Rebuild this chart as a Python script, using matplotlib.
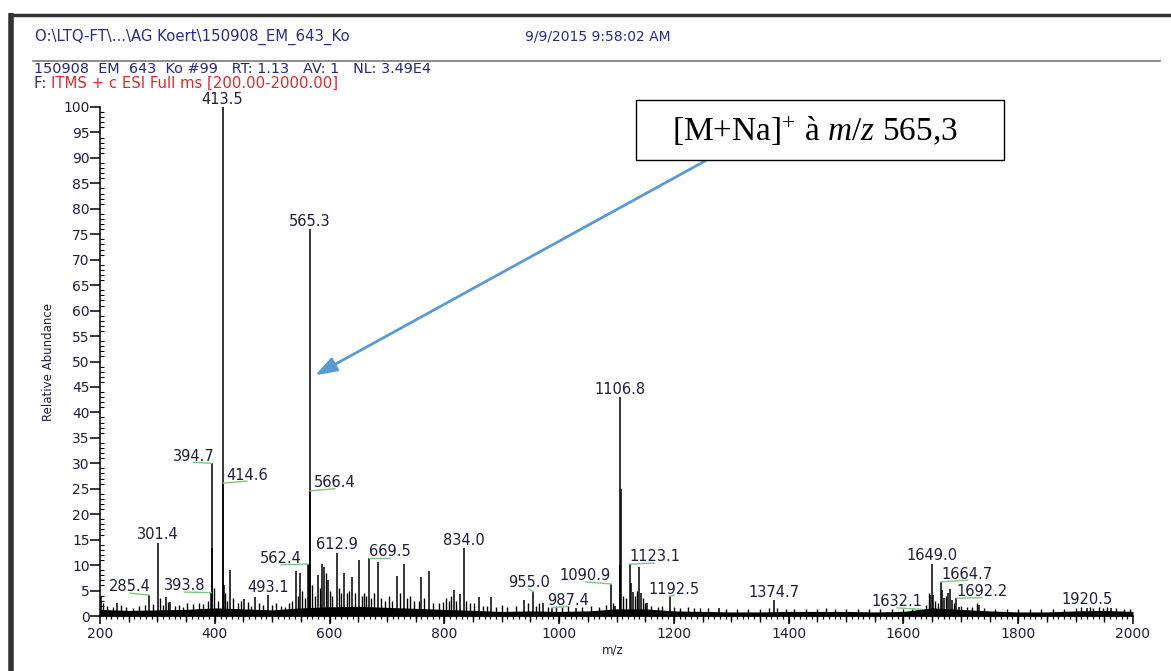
import matplotlib
matplotlib.use('Agg')
import matplotlib.pyplot as plt
from matplotlib.ticker import MultipleLocator
from matplotlib.lines import Line2D
from matplotlib.patches import Rectangle

plt.rcParams['font.family'] = ['DejaVu Sans']
plt.rcParams['mathtext.fontset'] = 'custom'
plt.rcParams['mathtext.rm'] = 'Liberation Serif'
plt.rcParams['mathtext.it'] = 'Liberation Serif:italic'

# ---------------- data ----------------
# labelled peaks (m/z, relative abundance %)
labeled_mz = [285.4, 301.4, 393.8, 394.7, 413.5, 414.6, 493.1, 562.4, 565.3, 566.4,
              612.9, 669.5, 834.0, 955.0, 987.4, 1090.9, 1106.8, 1123.1, 1192.5,
              1374.7, 1632.1, 1649.0, 1664.7, 1692.2, 1920.5]
labeled_int = [4.1, 14.4, 4.6, 30.0, 100.0, 26.1, 4.1, 10.2, 76.0, 24.6,
               12.4, 11.4, 13.3, 4.8, 1.6, 6.3, 43.0, 10.2, 3.9,
               3.1, 1.3, 10.3, 6.7, 3.5, 1.6]
label_texts = ['285.4', '301.4', '393.8', '394.7', '413.5', '414.6', '493.1', '562.4',
               '565.3', '566.4', '612.9', '669.5', '834.0', '955.0', '987.4', '1090.9',
               '1106.8', '1123.1', '1192.5', '1374.7', '1632.1', '1649.0', '1664.7',
               '1692.2', '1920.5']

# other prominent unlabelled peaks
other_mz = [201, 229, 315, 322, 395.7, 415.6, 427, 451, 470, 541, 548, 564.3, 580, 586,
            590, 597, 626, 639, 651, 685, 717, 730, 759, 773, 817, 828, 860, 882, 938,
            972, 1029, 1097, 1105.8, 1107.8, 1126, 1129, 1140, 1143, 1153, 1278, 1647,
            1651, 1668, 1671, 1677, 1681, 1685, 1696, 1732, 1962]
other_int = [3.8, 2.5, 3.8, 2.8, 13.3, 6.0, 9.0, 3.3, 3.8, 8.8, 8.5, 10.0, 8.0, 10.3,
             9.7, 7.1, 8.4, 7.7, 11.0, 10.7, 7.9, 10.3, 7.7, 8.8, 5.1, 4.3, 3.8, 3.8, 3.1,
             2.6, 1.5, 2.0, 10.0, 25.0, 6.4, 4.8, 9.7, 4.5, 2.6, 1.5, 4.1,
             4.1, 5.1, 3.5, 4.5, 5.4, 3.1, 1.8, 2.2, 1.5]

# small peaks over the noise
minor_mz = [205, 212, 222, 236, 245, 258, 268, 278, 292, 305, 310, 318, 330, 338, 345,
            352, 362, 372, 380, 388, 398, 405, 418, 422, 432, 440, 445, 458, 463, 477,
            484, 500, 506, 515, 522, 530, 535, 545, 552, 558, 570, 575, 583, 593, 600,
            605, 616, 620, 630, 634, 644, 656, 660, 664, 673, 678, 690, 696, 703, 708,
            722, 735, 740, 748, 755, 765, 780, 790, 797, 803, 808, 812, 820, 838, 845,
            852, 868, 875, 890, 900, 910, 925, 945, 960, 965, 980, 995, 1005, 1015, 1040,
            1055, 1070, 1082, 1094, 1112, 1116, 1132, 1136, 1146, 1150, 1160, 1172, 1180,
            1200, 1210, 1225, 1235, 1245, 1260, 1290, 1310, 1330, 1350, 1365, 1380, 1395,
            1410, 1430, 1450, 1465, 1480, 1500, 1520, 1540, 1560, 1580, 1600, 1615, 1640,
            1644, 1655, 1660, 1674, 1688, 1700, 1710, 1720, 1728, 1740, 1760, 1780, 1800,
            1820, 1840, 1860, 1880, 1900, 1910, 1925, 1930, 1940, 1948, 1955, 1970, 1985,
            1995]
minor_int = [2.5, 2.0, 1.8, 2.2, 1.8, 1.6, 1.9, 2.1, 2.4, 3.5, 2.2, 2.8, 2.0, 2.2, 1.8,
             2.5, 2.3, 2.6, 2.4, 3.0, 5.5, 3.0, 4.5, 3.0, 3.5, 2.5, 3.0, 2.8, 2.0, 2.5,
             2.2, 2.2, 2.5, 2.0, 1.8, 2.5, 3.0, 4.0, 5.0, 3.5, 6.0, 4.0, 5.5, 8.5, 5.0,
             4.0, 5.5, 4.5, 4.5, 5.0, 4.5, 4.0, 4.5, 4.0, 3.5, 4.5, 3.5, 3.0, 4.0, 3.0,
             4.5, 3.5, 4.0, 3.0, 3.0, 3.5, 2.5, 2.5, 2.8, 3.5, 3.0, 4.0, 3.0, 3.0, 2.5,
             2.5, 2.0, 2.0, 1.8, 2.2, 1.8, 2.0, 2.5, 2.0, 2.5, 1.8, 2.0, 1.8, 2.0, 1.8,
             2.0, 1.8, 2.2, 2.5, 4.0, 3.5, 4.0, 5.0, 3.5, 2.5, 2.0, 1.8, 2.0,
             1.8, 1.6, 1.8, 1.5, 1.6, 1.5, 1.4, 1.3, 1.4, 1.3, 1.5, 1.6, 1.4,
             1.3, 1.4, 1.3, 1.5, 1.3, 1.4, 1.3, 1.4, 1.3, 1.4, 1.3, 1.4, 2.2,
             4.5, 3.0, 2.5, 4.0, 2.5, 2.0, 1.8, 1.8, 2.5, 1.5, 1.4, 1.4, 1.3,
             1.3, 1.4, 1.3, 1.3, 1.5, 1.8, 1.8, 1.6, 1.7, 1.6, 1.8, 1.5, 1.3,
             1.4]

# noise band level
noise_mz = [200, 250, 300, 350, 400, 450, 500, 550, 600, 650, 700, 750, 800, 850, 900,
            950, 1000, 1050, 1100, 1150, 1200, 1250, 1300, 1350, 1400, 1450, 1500, 1550,
            1600, 1650, 1700, 1750, 1800, 1850, 1900, 1950, 2000]
noise_int = [1.3, 1.1, 1.2, 1.3, 1.6, 1.4, 1.2, 1.6, 1.8, 1.9, 1.7, 1.5, 1.3, 1.1, 0.9,
             1.0, 0.9, 1.0, 1.4, 1.4, 1.0, 0.9, 0.8, 0.8, 0.9, 0.9, 0.9, 0.8,
             0.9, 1.6, 1.3, 1.0, 0.8, 0.8, 1.0, 1.1, 0.9]

x_ticks = [200, 400, 600, 800, 1000, 1200, 1400, 1600, 1800, 2000]
y_ticks = list(range(0, 101, 5))

# layout: centres of labels that are moved off their peak (drawn with a leader line)
label_offsets = {
    '285.4': (252.3, 5.7), '393.8': (347.2, 5.9), '394.7': (362.9, 31.4),
    '414.6': (456.1, 27.7), '562.4': (515.4, 11.3), '566.4': (609.5, 26.2),
    '669.5': (705.3, 12.6), '955.0': (947.5, 6.5), '987.4': (1015.5, 3.1),
    '1090.9': (1045.9, 7.9), '1123.1': (1166.3, 11.6), '1192.5': (1200.2, 5.3),
    '1632.1': (1588.8, 2.8), '1664.7': (1711.5, 8.25), '1692.2': (1736.8, 4.8),
}

# ---------------- figure ----------------
W, H = 1171, 671
fig = plt.figure(figsize=(W / 100, H / 100), dpi=100)
fig.patch.set_facecolor('white')


def fx(x):
    return x / W


def fy(y):
    return 1 - y / H


ax = fig.add_axes([fx(100), fy(616), (1133 - 100) / W, (616 - 107) / H])
ax.set_xlim(200, 2000)
ax.set_ylim(0, 100)

ink = 'black'
ax.fill_between(noise_mz, 0, noise_int, color=ink, lw=0)
ax.vlines(minor_mz, 0, minor_int, color=ink, lw=1.0)
ax.vlines(other_mz, 0, other_int, color=ink, lw=1.1)
ax.vlines(labeled_mz, 0, labeled_int, color=ink, lw=1.1)

lab_color = '#1e1e3c'
green = '#7cc87c'
for mz, h, t in zip(labeled_mz, labeled_int, label_texts):
    if t in label_offsets:
        tx, ty = label_offsets[t]
        ax.plot([mz, tx], [h, ty - 1.2], color=green, lw=1.0, clip_on=False)
        ax.text(tx, ty, t, ha='center', va='center', fontsize=10.5, color=lab_color,
                clip_on=False)
    else:
        ax.annotate(t, xy=(mz, h), xytext=(0, 2.5), textcoords='offset points',
                    ha='center', va='baseline', fontsize=10.5, color=lab_color,
                    annotation_clip=False)

# axes styling
for s in ['top', 'right']:
    ax.spines[s].set_visible(False)
for s in ['left', 'bottom']:
    ax.spines[s].set_linewidth(1.1)
ax.set_xticks(x_ticks)
ax.set_yticks(y_ticks)
ax.xaxis.set_minor_locator(MultipleLocator(10))
ax.yaxis.set_minor_locator(MultipleLocator(1))
ax.tick_params(axis='x', which='major', direction='out', length=6, width=1.1,
               labelsize=10, labelcolor=lab_color, pad=2)
ax.tick_params(axis='x', which='minor', direction='out', length=2.5, width=0.9)
ax.tick_params(axis='y', which='major', direction='out', length=7, width=1.1,
               labelsize=10, labelcolor=lab_color, pad=0.5)
ax.tick_params(axis='y', which='minor', direction='in', length=3, width=0.8)

sec = ax.secondary_xaxis('bottom')
sec.set_xticks(list(range(250, 2000, 50)))
sec.tick_params(direction='out', length=4.5, width=1.0, labelbottom=False)
sec.spines['bottom'].set_visible(False)

fig.text(fx(613), fy(650), 'm/z', ha='center', va='center', fontsize=8.5, color=lab_color)
fig.text(fx(48), fy(362), 'Relative Abundance', ha='center', va='center', rotation=90,
         fontsize=8.5, color=lab_color)

# header
navy = '#2a2a8a'
fig.text(fx(35), fy(37), 'O:\\LTQ-FT\\...\\AG Koert\\150908_EM_643_Ko', ha='left',
         va='center', fontsize=10.7, color=navy)
fig.text(fx(525), fy(37), '9/9/2015 9:58:02 AM', ha='left', va='center', fontsize=10,
         color=navy)
fig.add_artist(Line2D([fx(33), fx(1160)], [fy(61), fy(61)], color='#7a7a7a', lw=1.2))
fig.text(fx(34), fy(69), '150908  EM  643  Ko #99   RT: 1.13   AV: 1   NL: 3.49E4',
         ha='left', va='center', fontsize=10.4, color='#262680')
t1 = fig.text(fx(34), fy(83), 'F: ', ha='left', va='center', fontsize=10.7, color='#3a2a5a')
fig.canvas.draw()
bb = t1.get_window_extent()
fig.text(bb.x1 / W, fy(83), 'ITMS + c ESI Full ms [200.00-2000.00]', ha='left',
         va='center', fontsize=10.7, color='#e02828')

# page frame
fig.add_artist(Line2D([fx(11), fx(11)], [fy(13), fy(671)], color='#333333', lw=4,
                      solid_capstyle='butt'))
fig.add_artist(Line2D([fx(9), fx(1171)], [fy(15), fy(15)], color='#333333', lw=2.5,
                      solid_capstyle='butt'))

# annotation box and arrow
fig.add_artist(Rectangle((fx(636), fy(160)), (1004 - 636) / W, (160 - 100) / H,
                         transform=fig.transFigure, facecolor='white',
                         edgecolor='black', lw=1.0))
fig.text(fx(815), fy(131), r'[M+Na]$^{+}$ à $\mathit{m/z}$ 565,3', ha='center',
         va='center', fontsize=24, family='Liberation Serif', color='black')
ax.annotate('', xy=(575, 47.3), xycoords='data', xytext=(fx(705), fy(161)),
            textcoords='figure fraction',
            arrowprops=dict(arrowstyle='-|>,head_length=1.3,head_width=0.45',
                            color='#5b9bd5', lw=2.0, shrinkA=0, shrinkB=0),
            annotation_clip=False)

fig.savefig('out.png', dpi=100)
